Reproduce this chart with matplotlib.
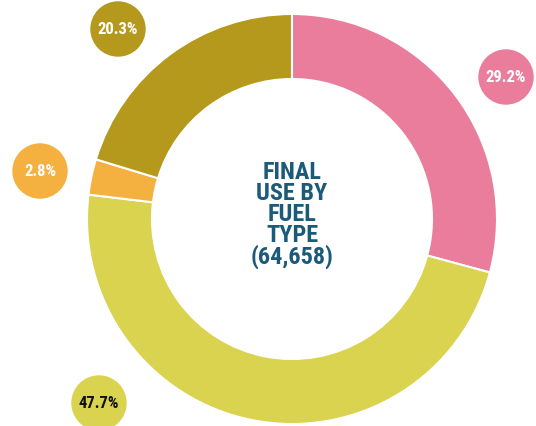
import matplotlib
matplotlib.use("Agg")
import matplotlib.pyplot as plt
from matplotlib.patches import Circle

# Share of final energy use by fuel type
labels = ["29.2%", "47.7%", "2.8%", "20.3%"]
shares = [29.2, 47.7, 2.8, 20.3]
colors = ["#EA7C9C", "#D9D34F", "#F5B140", "#B5991C"]
label_text_colors = ["white", "#111111", "white", "white"]
center_title = "FINAL\nUSE BY\nFUEL\nTYPE\n(64,658)"

family = ["Roboto Condensed", "DejaVu Sans"]

W, H = 536, 427
fig = plt.figure(figsize=(W / 100, H / 100), dpi=100)
ax = fig.add_axes([0, 0, 1, 1])

cx, cy = 292, H - 220
outer_r, ring_w = 205, 65

ax.pie(shares, colors=colors, startangle=90, counterclock=False,
       radius=outer_r, center=(cx, cy), frame=True,
       wedgeprops=dict(width=ring_w, edgecolor="white", linewidth=1.5))
ax.set_xlim(0, W)
ax.set_ylim(0, H)
ax.set_aspect("equal")
ax.axis("off")

ax.text(cx, cy + 5, center_title, ha="center", va="center",
        fontsize=17.5, fontweight=900, color="#1B5A78",
        family=family, linespacing=0.88)

# Percentage badges placed around the ring
badge_pos = [(506, H - 78), (99, H - 404), (40, H - 172), (118, H - 30)]
for (bx, by), lab, col, tc in zip(badge_pos, labels, colors, label_text_colors):
    ax.add_patch(Circle((bx, by), 27, color=col, zorder=3))
    ax.text(bx, by, lab, ha="center", va="center", fontsize=12,
            fontweight=900, color=tc, family=family, zorder=4)

fig.savefig("out.png", dpi=100)
